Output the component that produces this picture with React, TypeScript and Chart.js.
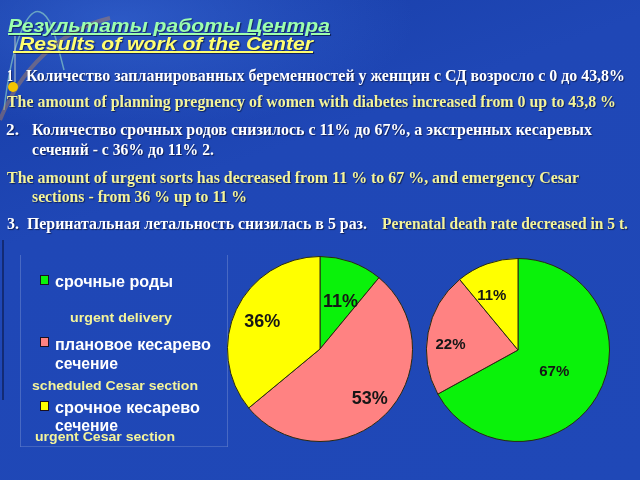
import React, { useEffect, useLayoutEffect, useRef } from "react";
import { Chart, ArcElement, PieController } from "chart.js";

Chart.register(ArcElement, PieController);

// ---- data ----
const categories = ["срочные роды", "плановое кесарево сечение", "срочное кесарево сечение"];
const categoriesEn = ["urgent delivery", "scheduled Cesar section", "urgent Cesar section"];
const beforeValues = [11, 53, 36];
const afterValues = [67, 22, 11];
const sliceColors = ["#0af20a", "#ff8282", "#ffff00"];

// label placement inside slices: t = fraction along the slice angle, f = fraction of radius
const beforeLabelPlace = [
  { t: 0.6, f: 0.55 },
  { t: 0.5, f: 0.76 },
  { t: 0.5, f: 0.69 },
];
const afterLabelPlace = [
  { t: 0.5, f: 0.46 },
  { t: 0.42, f: 0.74 },
  { t: 0.35, f: 0.66 },
];

const SANS = "'Liberation Sans', Arial, sans-serif";
const SERIF = "'Liberation Serif', 'Times New Roman', serif";
const WHITE = "#ffffff";
const YEL = "#f4f49a";
const BODY = 16;

type FitProps = {
  x: number;
  baseline: number;
  w: number;
  size: number;
  family: string;
  color: string;
  bold?: boolean;
  italic?: boolean;
  underline?: boolean;
  shadow?: boolean;
  children: React.ReactNode;
};

function Fit({ x, baseline, w, size, family, color, bold = true, italic, underline, shadow, children }: FitProps) {
  const ref = useRef<HTMLSpanElement>(null);
  const fit = () => {
    const el = ref.current;
    if (!el) return;
    el.style.transform = "none";
    const actual = el.getBoundingClientRect().width;
    if (actual > 0) el.style.transform = `scaleX(${w / actual})`;
  };
  useLayoutEffect(() => {
    fit();
    if ((document as any).fonts && (document as any).fonts.ready) {
      (document as any).fonts.ready.then(fit);
    }
  });
  const asc = family === SERIF ? 0.8375 : 0.8465;
  return (
    <span
      ref={ref}
      style={{
        position: "absolute",
        left: x,
        top: baseline - asc * size,
        fontFamily: family,
        fontSize: size,
        lineHeight: 1,
        fontWeight: bold ? 700 : 400,
        fontStyle: italic ? "italic" : "normal",
        textDecoration: underline ? "underline" : "none",
        textDecorationThickness: underline ? 2 : undefined,
        color,
        whiteSpace: "pre",
        transformOrigin: "0 0",
        textShadow: shadow ? "1px 1px 1px rgba(0,0,20,0.55)" : "none",
      }}
    >
      {children}
    </span>
  );
}

function PieChart({
  values,
  place,
  left,
  top,
  size,
  fontSize,
}: {
  values: number[];
  place: { t: number; f: number }[];
  left: number;
  top: number;
  size: number;
  fontSize: number;
}) {
  const ref = useRef<HTMLCanvasElement>(null);
  useEffect(() => {
    if (!ref.current) return;
    const labelPlugin = {
      id: "sliceLabels",
      afterDatasetsDraw(chart: any) {
        const ctx = chart.ctx;
        const meta = chart.getDatasetMeta(0);
        ctx.save();
        ctx.font = `bold ${fontSize}px ${SANS}`;
        ctx.fillStyle = "#161616";
        ctx.textAlign = "center";
        ctx.textBaseline = "middle";
        meta.data.forEach((arc: any, i: number) => {
          const p = arc.getProps(["x", "y", "startAngle", "endAngle", "outerRadius"], true);
          const a = p.startAngle + place[i].t * (p.endAngle - p.startAngle);
          const r = place[i].f * p.outerRadius;
          ctx.fillText(`${values[i]}%`, p.x + Math.cos(a) * r, p.y + Math.sin(a) * r);
        });
        ctx.restore();
      },
    };
    const chart = new Chart(ref.current, {
      type: "pie",
      data: {
        labels: categories,
        datasets: [
          {
            data: values,
            backgroundColor: sliceColors,
            borderColor: "#2a2a10",
            borderWidth: 1,
          },
        ],
      },
      options: {
        animation: false,
        responsive: false,
        devicePixelRatio: 1,
        layout: { padding: 0 },
        plugins: { legend: { display: false }, tooltip: { enabled: false } },
      },
      plugins: [labelPlugin],
    });
    return () => chart.destroy();
  }, []);
  return (
    <canvas
      ref={ref}
      width={size}
      height={size}
      style={{ position: "absolute", left, top, width: size, height: size }}
    />
  );
}

function Square({ x, y, color }: { x: number; y: number; color: string }) {
  return (
    <div
      style={{
        position: "absolute",
        left: x,
        top: y,
        width: 7,
        height: 8,
        background: color,
        border: "1px solid #1a1020",
      }}
    />
  );
}

export default function App() {
  return (
    <div
      style={{
        position: "fixed",
        left: 0,
        top: 0,
        width: 640,
        height: 480,
        overflow: "hidden",
        background:
          "radial-gradient(ellipse 420px 160px at 120px 20px, rgba(60,110,220,0.55), rgba(0,0,0,0) 70%), linear-gradient(160deg, #173da6 0%, #1f47b6 35%, #1f48b7 100%)",
      }}
    >
      {/* decoration */}
      <svg width={640} height={480} style={{ position: "absolute", left: 0, top: 0 }}>
        <path d="M4 110 C 12 40, 28 8, 40 12 C 52 16, 56 40, 64 70" stroke="rgba(150,220,200,0.6)" strokeWidth={1.5} fill="none" />
        <path d="M0 120 C 20 70, 60 30, 110 18" stroke="rgba(230,150,60,0.35)" strokeWidth={4} fill="none" />
        <line x1={15} y1={36} x2={15} y2={82} stroke="rgba(220,230,200,0.8)" strokeWidth={1} />
        <circle cx={13} cy={87} r={5} fill="#f5c400" />
        <line x1={3} y1={240} x2={3} y2={400} stroke="rgba(10,20,60,0.7)" strokeWidth={1.5} />
        <line x1={20.5} y1={255} x2={20.5} y2={447} stroke="rgba(150,170,220,0.35)" strokeWidth={1} />
        <line x1={227.5} y1={255} x2={227.5} y2={447} stroke="rgba(150,170,220,0.35)" strokeWidth={1} />
        <line x1={20.5} y1={446.5} x2={227.5} y2={446.5} stroke="rgba(150,170,220,0.3)" strokeWidth={1} />
      </svg>

      {/* titles */}
      <Fit x={8} baseline={32} w={322} size={19} family={SANS} color="#9cffae" italic underline shadow>
        Результаты работы Центра
      </Fit>
      <Fit x={13} baseline={50} w={300} size={19} family={SANS} color="#ffff70" italic underline shadow>
        {"\u00a0Results of work of the Center"}
      </Fit>

      {/* body text */}
      <Fit x={7} baseline={81} w={6} size={BODY} family={SERIF} color={WHITE} shadow>1</Fit>
      <Fit x={26} baseline={81} w={599} size={BODY} family={SERIF} color={WHITE} shadow>
        Количество запланированных беременностей у женщин с СД возросло с 0 до 43,8%
      </Fit>
      <Fit x={7} baseline={107} w={609} size={BODY} family={SERIF} color={YEL} shadow>
        The amount of planning pregnency of women with diabetes increased from 0 up to 43,8 %
      </Fit>
      <Fit x={6} baseline={135} w={13} size={BODY} family={SERIF} color={WHITE} shadow>2.</Fit>
      <Fit x={32} baseline={135} w={560} size={BODY} family={SERIF} color={WHITE} shadow>
        Количество срочных родов снизилось с 11% до 67%, а экстренных кесаревых
      </Fit>
      <Fit x={32} baseline={155} w={182} size={BODY} family={SERIF} color={WHITE} shadow>
        сечений - с 36% до 11% 2.
      </Fit>
      <Fit x={7} baseline={183} w={572} size={BODY} family={SERIF} color={YEL} shadow>
        The amount of urgent sorts has decreased from 11 % to 67 %, and emergency Cesar
      </Fit>
      <Fit x={32} baseline={202} w={215} size={BODY} family={SERIF} color={YEL} shadow>
        sections - from 36 % up to 11 %
      </Fit>
      <Fit x={7} baseline={229} w={360} size={BODY} family={SERIF} color={WHITE} shadow>
        3.  Перинатальная летальность снизилась в 5 раз.
      </Fit>
      <Fit x={382} baseline={229} w={246} size={BODY} family={SERIF} color={YEL} shadow>
        Perenatal death rate decreased in 5 t.
      </Fit>

      {/* legend */}
      <Square x={40} y={275} color={sliceColors[0]} />
      <Fit x={55} baseline={287} w={118} size={17} family={SANS} color={WHITE}>
        {categories[0]}
      </Fit>
      <Fit x={70} baseline={322} w={102} size={13} family={SANS} color={YEL}>
        {categoriesEn[0]}
      </Fit>
      <Square x={40} y={337} color={sliceColors[1]} />
      <Fit x={55} baseline={350} w={156} size={17} family={SANS} color={WHITE}>
        плановое кесарево
      </Fit>
      <Fit x={55} baseline={369} w={63} size={17} family={SANS} color={WHITE}>
        сечение
      </Fit>
      <Fit x={32} baseline={390} w={166} size={13} family={SANS} color={YEL}>
        {categoriesEn[1]}
      </Fit>
      <Square x={40} y={401} color={sliceColors[2]} />
      <Fit x={55} baseline={413} w={145} size={17} family={SANS} color={WHITE}>
        срочное кесарево
      </Fit>
      <Fit x={55} baseline={431} w={63} size={17} family={SANS} color={WHITE}>
        сечение
      </Fit>
      <Fit x={35} baseline={441} w={140} size={13} family={SANS} color={YEL}>
        {categoriesEn[2]}
      </Fit>

      {/* pies */}
      <PieChart values={beforeValues} place={beforeLabelPlace} left={227} top={256} size={186} fontSize={18} />
      <PieChart values={afterValues} place={afterLabelPlace} left={426} top={258} size={184} fontSize={15} />
    </div>
  );
}
